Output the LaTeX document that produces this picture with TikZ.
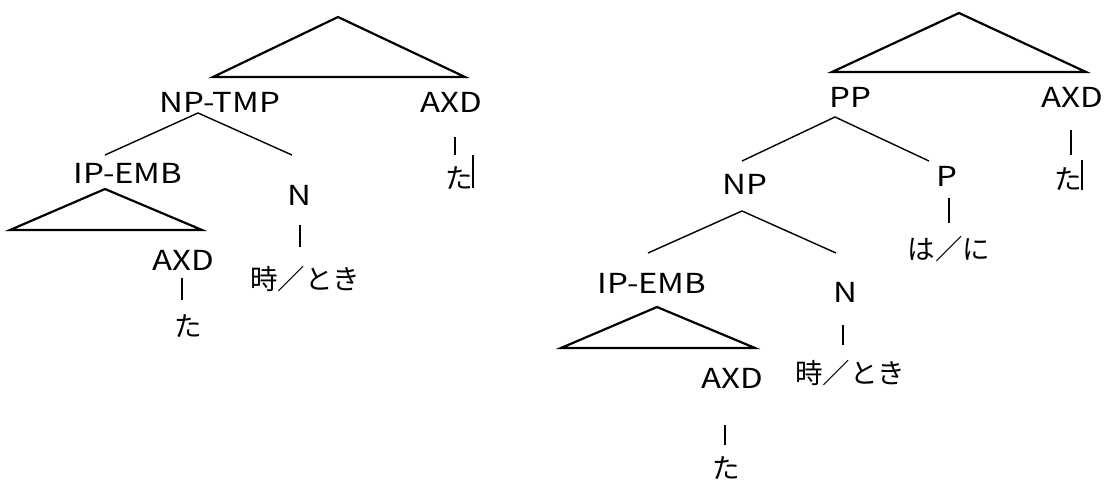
\documentclass[tikz,border=0pt]{standalone}
\usepackage{fontspec}
\setmainfont{Noto Sans CJK JP}
\newfontfamily\latf{Noto Sans CJK JP}[FakeStretch=1.2]
\begin{document}
\begin{tikzpicture}[x=1pt,y=-1pt,
  lbl/.style={font=\fontsize{27.5}{30}\selectfont\latf, inner sep=0pt},
  jp/.style={font=\fontsize{27.5}{30}\selectfont, inner sep=0pt},
  tri/.style={line width=2.2pt, line join=miter},
  br/.style={line width=1.4pt},
  bar/.style={line width=1.3pt},
  cur/.style={line width=2pt}]
\useasboundingbox (0,0) rectangle (1108,484);
% ---------- left tree ----------
\coordinate (t1a) at (338,17); \coordinate (t1l) at (213,77); \coordinate (t1r) at (465,77);
\draw[tri] (t1a) -- (t1l) -- (t1r) -- cycle;
\node[lbl] (nptmp) at (220,102) {NP-TMP};
\node[lbl] (axd1) at (451,102) {AXD};
\coordinate (b1t) at (455,137); \coordinate (b1b) at (455,155);
\draw[bar] (b1t) -- (b1b);
\node[jp] (ta1) at (459,178) {た};
\coordinate (c1t) at (473,155); \coordinate (c1b) at (473,188);
\draw[cur] (c1t) -- (c1b);
\coordinate (n1a) at (198,113); \coordinate (n1l) at (105,155); \coordinate (n1r) at (292,155);
\draw[br] (n1l) -- (n1a) -- (n1r);
\node[lbl] (ipemb1) at (128,173) {IP-EMB};
\coordinate (t2a) at (105,189); \coordinate (t2l) at (10,230); \coordinate (t2r) at (202,230);
\draw[tri] (t2a) -- (t2l) -- (t2r) -- cycle;
\node[lbl] (n1) at (299,195) {N};
\coordinate (b2t) at (300,225); \coordinate (b2b) at (300,247);
\draw[bar] (b2t) -- (b2b);
\node[jp] (toki1) at (305,279) {時／とき};
\node[lbl] (axd2) at (183,260) {AXD};
\coordinate (b3t) at (182,278); \coordinate (b3b) at (182,300);
\draw[bar] (b3t) -- (b3b);
\node[jp] (ta2) at (188,326) {た};
% ---------- right tree ----------
\coordinate (t3a) at (959,13); \coordinate (t3l) at (832,72); \coordinate (t3r) at (1086,72);
\draw[tri] (t3a) -- (t3l) -- (t3r) -- cycle;
\node[lbl] (pp) at (850,97) {PP};
\node[lbl] (axd3) at (1072,97) {AXD};
\coordinate (b4t) at (1071,130); \coordinate (b4b) at (1071,155);
\draw[bar] (b4t) -- (b4b);
\node[jp] (ta3) at (1068,179) {た};
\coordinate (c2t) at (1082,160); \coordinate (c2b) at (1082,190);
\draw[bar] (c2t) -- (c2b);
\coordinate (p1a) at (835,117); \coordinate (p1l) at (742,161); \coordinate (p1r) at (929,161);
\draw[br] (p1l) -- (p1a) -- (p1r);
\node[lbl] (np) at (745,184) {NP};
\node[lbl] (p) at (947,176) {P};
\coordinate (b5t) at (949,198); \coordinate (b5b) at (949,223);
\draw[bar] (b5t) -- (b5b);
\node[jp] (hani) at (949,249) {は／に};
\coordinate (p2a) at (742,211); \coordinate (p2l) at (648,253); \coordinate (p2r) at (836,253);
\draw[br] (p2l) -- (p2a) -- (p2r);
\node[lbl] (ipemb2) at (652,283) {IP-EMB};
\node[lbl] (n2) at (845,292) {N};
\coordinate (b6t) at (843,325); \coordinate (b6b) at (843,345);
\draw[bar] (b6t) -- (b6b);
\node[jp] (toki2) at (850,373) {時／とき};
\coordinate (t4a) at (657,307); \coordinate (t4l) at (561,348); \coordinate (t4r) at (755,348);
\draw[tri] (t4a) -- (t4l) -- (t4r) -- cycle;
\node[lbl] (axd4) at (732,378) {AXD};
\coordinate (b7t) at (725,425); \coordinate (b7b) at (725,445);
\draw[bar] (b7t) -- (b7b);
\node[jp] (ta4) at (726,468) {た};
\end{tikzpicture}
\end{document}
